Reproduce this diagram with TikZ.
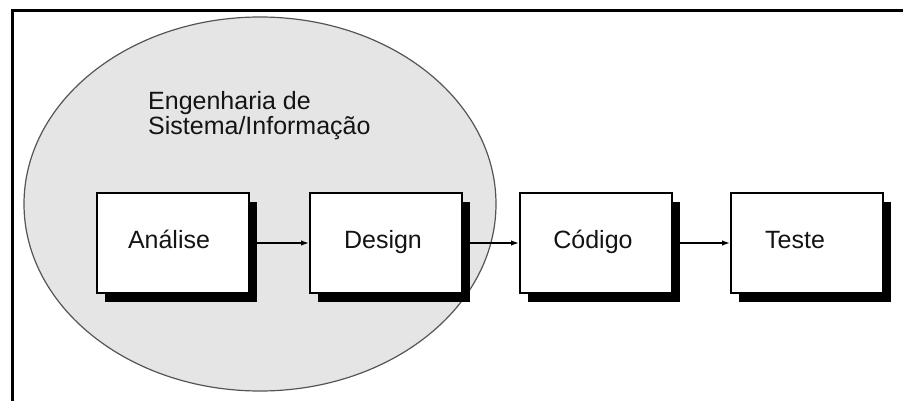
\documentclass[tikz,border=0pt]{standalone}
\usepackage{fontspec}
\setmainfont{Liberation Sans}
\usetikzlibrary{arrows.meta,shapes.geometric,shadows,calc}
\definecolor{regionfill}{RGB}{229,229,229}
\definecolor{regionline}{RGB}{85,85,85}
\begin{document}
\begin{tikzpicture}[x=1pt,y=-1pt,
  region/.style={ellipse, draw=regionline, line width=1.2pt, fill=regionfill,
    minimum width=472pt, minimum height=374pt, inner sep=0pt},
  stage/.style={draw=black, line width=2pt, fill=white,
    minimum width=152pt, minimum height=100pt, inner sep=0pt,
    drop shadow={shadow xshift=8pt, shadow yshift=-9pt, fill=black, opacity=1}},
  flow/.style={-{Latex[length=8pt,width=5.5pt]}, line width=1.4pt},
  lbl/.style={font=\fontsize{25}{25}\selectfont, inner sep=0pt, text=black!92},
  frame/.style={line width=3pt}]
\useasboundingbox (0,0) rectangle (903,401);
\fill[white] (0,0) rectangle (903,401);

% page frame (top and left edges only)
\coordinate (fbl) at (12,401);
\coordinate (ftl) at (12,11);
\coordinate (ftr) at (903,11);
\draw[frame] (fbl) -- (ftl) -- (ftr);

% system / information engineering region
\node[region] (eng) at (260,204) {};
\node[lbl, anchor=base west, align=left] (engtitle) at (148,135)
  {Engenharia de\\Sistema/Informação};

% process stages
\node[stage] (analise) at (173,243) {};
\node[stage] (design)  at (386,243) {};
\node[stage] (codigo)  at (596,243) {};
\node[stage] (teste)   at (807,243) {};

\node[lbl, anchor=base] (analiset) at ($(analise.center)+(-4,5)$) {Análise};
\node[lbl, anchor=base] (designt)  at ($(design.center)+(-3,5)$)  {Design};
\node[lbl, anchor=base] (codigot)  at ($(codigo.center)+(-3,5)$)  {Código};
\node[lbl, anchor=base] (testet)   at ($(teste.center)+(-12,5)$)  {Teste};

% flow between stages
\draw[flow] (analise) -- (design);
\draw[flow] (design) -- (codigo);
\draw[flow] (codigo) -- (teste);
\end{tikzpicture}
\end{document}
